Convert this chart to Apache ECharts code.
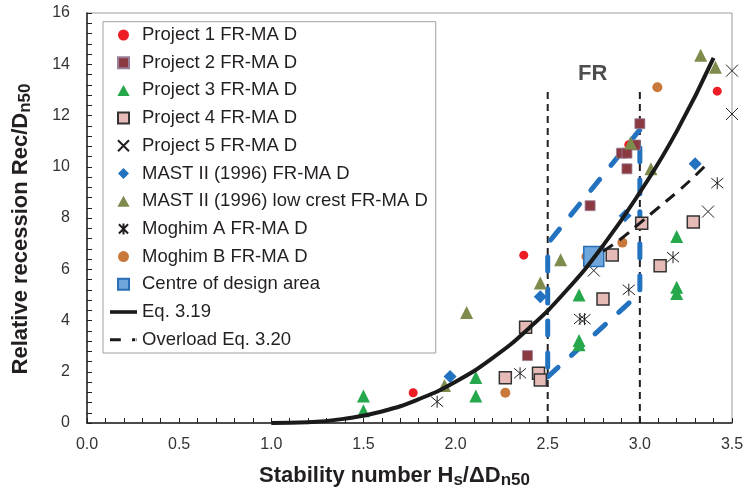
<!DOCTYPE html>
<html><head><meta charset="utf-8">
<script src="https://cdn.jsdelivr.net/npm/echarts@6/dist/echarts.min.js"></script>
<style>html,body{margin:0;padding:0;background:#fff}#c{width:747px;height:494px}</style>
</head><body><div id="c"></div>
<script>
// ---- data ----
var xTicks = [0.0, 0.5, 1.0, 1.5, 2.0, 2.5, 3.0, 3.5];
var yTicks = [0, 2, 4, 6, 8, 10, 12, 14, 16];
var project1 = [[1.77,1.18],[2.37,6.55],[2.94,10.86],[3.42,12.95]];
var project2 = [[3.0,11.68],[2.975,10.85],[2.90,10.53],[2.93,10.53],[2.93,9.92],[2.73,8.48],[2.39,2.63]];
var project3 = [[1.5,1.05],[1.5,0.48],[2.11,1.78],[2.11,1.05],[2.67,5.0],[2.67,3.22],[2.67,3.05],[3.2,7.28],[3.2,5.3],[3.2,5.05]];
var project4 = [[2.38,3.74],[2.27,1.77],[2.45,1.94],[2.46,1.68],[2.80,4.84],[2.85,6.56],[3.01,7.8],[3.11,6.14],[3.29,7.84]];
var project5 = [[2.75,5.95],[3.37,8.25],[3.50,12.06],[3.50,13.75]];
var mast = [[1.97,1.81],[2.46,4.93],[2.92,8.09],[3.30,10.12]];
var mastLow = [[1.94,1.46],[2.06,4.31],[2.46,5.46],[2.57,6.37],[2.95,10.93],[3.06,9.92],[3.33,14.35],[3.41,13.88]];
var moghimA = [[1.90,0.83],[2.35,1.94],[2.675,4.06],[2.70,4.05],[2.94,5.2],[3.18,6.47],[3.42,9.36]];
var moghimB = [[2.27,1.18],[2.71,6.5],[2.905,7.04],[3.095,13.1]];
var centre = [[2.75,6.5]];
var eq319 = [[1.0,0],[1.2,0.03],[1.4,0.17],[1.6,0.45],[1.8,0.93],[2.0,1.61],[2.2,2.53],[2.4,3.71],[2.6,5.16],[2.8,6.92],[3.0,9.0],[3.2,11.38],[3.4,14.25]];
var overload = [[2.8,6.7],[2.9,7.2],[3.0,7.8],[3.1,8.4],[3.2,9.0],[3.3,9.65],[3.37,10.15]];
var frLeft = [[2.5,0],[2.5,13.05]];
var frRight = [[3.0,0],[3.0,13.05]];
var designArea = [[2.5,1.8],[3.0,5.07],[3.0,11.45],[2.5,7.0],[2.5,1.8]];
var frLabel = [[2.744,13.64]];

var FONT = '"Liberation Sans", Arial, Helvetica, sans-serif';
var X_PATH = 'path://M0,0L10,10M10,0L0,10';
var AST_PATH = 'path://M0,0L10,10M10,0L0,10M5,-1L5,11';
var SQ_PATH = 'path://M0,0H10V10H0Z';
var TRI_PATH = 'path://M5,0L10,9L0,9Z';
var DIA_PATH = 'path://M5,0L10,5L5,10L0,5Z';
var SOLID_ICON = 'path://M0,0H30V4H0Z';
var DASH_ICON = 'path://M0,0H12V3.5H0Z M24.5,0H28V3.5H24.5Z M29.5,0H30V3.5H29.5Z';

function sc(name, data, symbol, size, style) {
  style.opacity = 1;
  return {type:'scatter', name:name, data:data, symbol:symbol, symbolSize:size, itemStyle:style, z:3};
}

var chart = echarts.init(document.getElementById('c'), null, {renderer:'canvas'});
chart.setOption({
  animation:false,
  backgroundColor:'#fff',
  grid:{left:83, right:15, top:13, bottom:71, show:true, borderColor:'#9a9a9a', borderWidth:1},
  legend:{
    orient:'vertical', left:103, top:21.7,
    padding:[3.3,8,3.3,7], itemGap:7.7, itemWidth:27, itemHeight:11,
    borderColor:'#a0a0a0', borderWidth:1, backgroundColor:'#fff',
    textStyle:{fontFamily:FONT, fontSize:18.5, color:'#231f20', lineHeight:20},
    data:[
      {name:'Project 1 FR-MA D', icon:'circle'},
      {name:'Project 2 FR-MA D', icon:SQ_PATH},
      {name:'Project 3 FR-MA D', icon:TRI_PATH},
      {name:'Project 4 FR-MA D', icon:SQ_PATH},
      {name:'Project 5 FR-MA D', icon:X_PATH},
      {name:'MAST II (1996) FR-MA D', icon:DIA_PATH},
      {name:'MAST II (1996) low crest FR-MA D', icon:TRI_PATH},
      {name:'Moghim A FR-MA D', icon:AST_PATH},
      {name:'Moghim B FR-MA D', icon:'circle'},
      {name:'Centre of design area', icon:SQ_PATH},
      {name:'Eq. 3.19', icon:SOLID_ICON},
      {name:'Overload Eq. 3.20', icon:DASH_ICON}
    ]
  },
  xAxis:{
    type:'value', min:xTicks[0], max:xTicks[xTicks.length-1], interval:0.5,
    name:'{b|Stability number H}{s|s}{b|/ΔD}{s|n50}', nameLocation:'middle', nameGap:40,
    nameTextStyle:{padding:[0,30,0,0], rich:{
      b:{fontFamily:FONT, fontSize:22, fontWeight:'bold', color:'#231f20', lineHeight:26},
      s:{fontFamily:FONT, fontSize:17, fontWeight:'bold', color:'#231f20', lineHeight:17, padding:[9,0,0,0]}}},
    axisLine:{lineStyle:{color:'#231f20', width:1.5}},
    axisTick:{inside:true, length:5, lineStyle:{color:'#231f20'}},
    minorTick:{show:true, splitNumber:5, length:5, lineStyle:{color:'#231f20'}},
    splitLine:{show:false},
    axisLabel:{fontFamily:FONT, fontSize:16, color:'#333', margin:14, formatter:function(v){return v.toFixed(1);}}
  },
  yAxis:{
    type:'value', min:yTicks[0], max:yTicks[yTicks.length-1], interval:2,
    name:'{b|Relative recession Rec/D}{s|n50}', nameLocation:'middle', nameGap:53,
    nameTextStyle:{padding:[0,22,0,0], rich:{
      b:{fontFamily:FONT, fontSize:22, fontWeight:'bold', color:'#231f20', lineHeight:26},
      s:{fontFamily:FONT, fontSize:17, fontWeight:'bold', color:'#231f20', lineHeight:17, padding:[9,0,0,0]}}},
    axisLine:{show:true, lineStyle:{color:'#231f20', width:1.5}},
    axisTick:{show:true, inside:true, length:5, lineStyle:{color:'#231f20'}},
    minorTick:{show:true, splitNumber:5, length:5, lineStyle:{color:'#231f20'}},
    splitLine:{show:false},
    axisLabel:{fontFamily:FONT, fontSize:16, color:'#333', margin:17}
  },
  series:[
    {type:'line', name:'frL', data:frLeft, symbol:'none', silent:true, z:1, lineStyle:{color:'#231f20', width:2, type:[7,5]}},
    {type:'line', name:'frR', data:frRight, symbol:'none', silent:true, z:1, lineStyle:{color:'#231f20', width:2, type:[7,5]}},
    {type:'line', name:'design', data:designArea, symbol:'none', silent:true, z:2, lineStyle:{color:'#2272bf', width:5, type:[14,18], cap:'round'}},
    sc('Project 1 FR-MA D', project1, 'circle', 9, {color:'#ee1c24'}),
    sc('Project 2 FR-MA D', project2, SQ_PATH, 10, {color:'#8b3a41', borderColor:'#9a7f98', borderWidth:0.8}),
    sc('Project 3 FR-MA D', project3, TRI_PATH, 13, {color:'#25a84b'}),
    sc('Project 4 FR-MA D', project4, SQ_PATH, 12, {color:'#e6bab6', borderColor:'#333', borderWidth:1.5}),
    sc('Project 5 FR-MA D', project5, X_PATH, 12, {color:'#231f20', borderColor:'#231f20', borderWidth:1}),
    sc('MAST II (1996) FR-MA D', mast, DIA_PATH, 13, {color:'#2272bf'}),
    sc('MAST II (1996) low crest FR-MA D', mastLow, TRI_PATH, 13, {color:'#7d8c4c'}),
    sc('Moghim A FR-MA D', moghimA, AST_PATH, 12, {color:'#231f20', borderColor:'#231f20', borderWidth:1}),
    sc('Moghim B FR-MA D', moghimB, 'circle', 10, {color:'#c8783a'}),
    sc('Centre of design area', centre, SQ_PATH, 20, {color:'#6fa6dc', borderColor:'#2a6fb5', borderWidth:1.5}),
    {type:'line', name:'Eq. 3.19', data:eq319, symbol:'none', smooth:true, z:4, color:'#1a1a1a', lineStyle:{color:'#1a1a1a', width:4}, itemStyle:{color:'#1a1a1a'}},
    {type:'line', name:'Overload Eq. 3.20', data:overload, symbol:'none', smooth:true, z:4, color:'#1a1a1a', lineStyle:{color:'#1a1a1a', width:3, type:[12,8]}, itemStyle:{color:'#1a1a1a'}},
    {type:'scatter', name:'frLabel', data:frLabel, symbolSize:0, silent:true, z:5,
     label:{show:true, position:'inside', formatter:'FR', fontFamily:FONT, fontSize:22, fontWeight:'bold', color:'#231f20'}}
  ]
});
</script></body></html>
